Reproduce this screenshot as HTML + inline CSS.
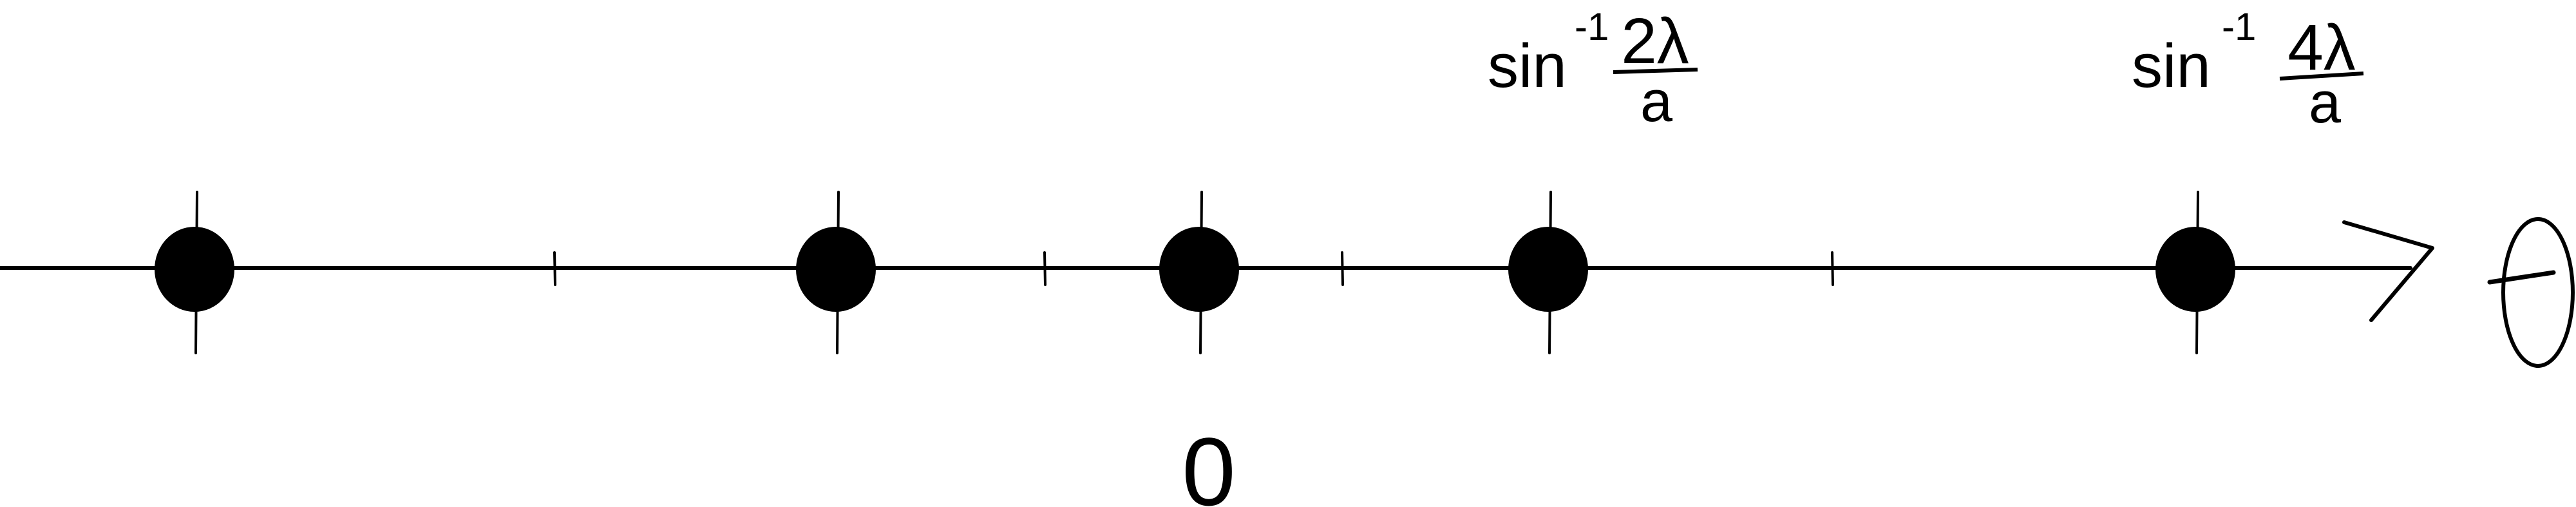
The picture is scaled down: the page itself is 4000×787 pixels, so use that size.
<!DOCTYPE html>
<html>
<head>
<meta charset="utf-8">
<style>
  html,body{margin:0;padding:0;background:#fff;}
  svg{display:block;}
  text{font-family:"Liberation Sans",sans-serif;fill:#000;}
</style>
</head>
<body>
<svg id="chart" width="4000" height="787" viewBox="0 0 4000 787" xmlns="http://www.w3.org/2000/svg">
  <line x1="0" y1="416" x2="3743" y2="416" stroke="#000" stroke-width="6" stroke-linecap="round"/>
  <polyline points="3640,345 3777,385 3682,497" fill="none" stroke="#000" stroke-width="6" stroke-linecap="round" stroke-linejoin="round"/>
  <g>
    <ellipse cx="3941" cy="454" rx="54" ry="114" fill="none" stroke="#000" stroke-width="6"/>
    <line x1="3866" y1="438" x2="3965" y2="423" stroke="#000" stroke-width="7" stroke-linecap="round"/>
  </g>
  <text x="1877" y="784" font-size="150" text-anchor="middle">0</text>

  <g>
    <text x="2310" y="135" font-size="96">sin</text>
    <text x="2445" y="62" font-size="60">-1</text>
    <text x="2570" y="98" font-size="100" text-anchor="middle">2λ</text>
    <line x1="2505" y1="112" x2="2636" y2="108" stroke="#000" stroke-width="6"/>
    <text x="2572" y="188" font-size="90" text-anchor="middle">a</text>
  </g>
  <g>
    <text x="3310" y="135" font-size="96">sin</text>
    <text x="3450" y="62" font-size="60">-1</text>
    <text x="3605" y="108" font-size="100" text-anchor="middle">4λ</text>
    <line x1="3540" y1="122" x2="3670" y2="114" stroke="#000" stroke-width="6"/>
    <text x="3610" y="190" font-size="90" text-anchor="middle">a</text>
  </g>
  <g id="marks"></g>
</svg>
<script>
// Positions along the theta axis (unit = 100px, 0 at the origin mark)
const peakValues = [-15.60, -5.64, 0, 5.42, 15.47];
const minorTickValues = [-10.01, -2.40, 2.22, 9.83];

const origin = 1862, unit = 100, axisY = 416;
function xScale(v){ return origin + v * unit; }

const NS = "http://www.w3.org/2000/svg";
const g = document.getElementById("marks");

minorTickValues.forEach(function(v, i){
  const t = document.createElementNS(NS, "line");
  
  
  const x = xScale(v);
  t.setAttribute("x1", x); t.setAttribute("x2", x + 1);
  t.setAttribute("y1", axisY - 24); t.setAttribute("y2", axisY + 26);
  t.setAttribute("stroke", "#000"); t.setAttribute("stroke-width", "4");
  t.setAttribute("stroke-linecap", "round");
  g.appendChild(t);
});

peakValues.forEach(function(v, i){
  const x = xScale(v);
  const s = document.createElementNS(NS, "line");
  
  
  s.setAttribute("x1", x + 4); s.setAttribute("x2", x + 2);
  s.setAttribute("y1", 298); s.setAttribute("y2", 548);
  s.setAttribute("stroke", "#000"); s.setAttribute("stroke-width", "4");
  s.setAttribute("stroke-linecap", "round");
  g.appendChild(s);
  const d = document.createElementNS(NS, "ellipse");
  
  
  d.setAttribute("cx", x); d.setAttribute("cy", axisY + 2);
  d.setAttribute("rx", 62); d.setAttribute("ry", 66);
  d.setAttribute("fill", "#000");
  g.appendChild(d);
});
</script>
</body>
</html>
